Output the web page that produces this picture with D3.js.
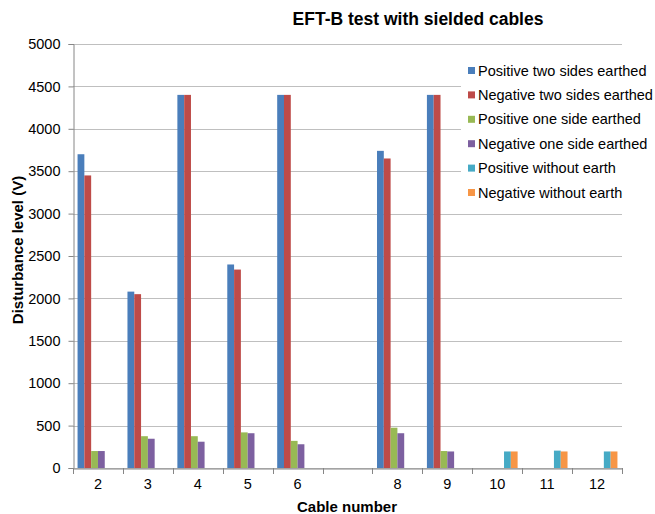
<!DOCTYPE html>
<html>
<head>
<meta charset="utf-8">
<script src="https://cdn.jsdelivr.net/npm/d3@7"></script>
<style>
  html, body { margin: 0; padding: 0; background: #fff; }
  svg { display: block; font-family: "Liberation Sans", Arial, sans-serif; }
</style>
</head>
<body>
<svg id="chart" width="655" height="514"></svg>
<script>
const categories = ["2", "3", "4", "5", "6", "7", "8", "9", "10", "11", "12"];
const categoryLabels = ["2", "3", "4", "5", "6", "", "8", "9", "10", "11", "12"];
const seriesNames = [
  "Positive two sides earthed",
  "Negative two sides earthed",
  "Positive one side earthed",
  "Negative one side earthed",
  "Positive without earth",
  "Negative without earth"
];
const posTwoSides = [3700, 2080, 4400, 2400, 4400, null, 3740, 4400, null, null, null];
const negTwoSides = [3450, 2050, 4400, 2340, 4400, null, 3650, 4400, null, null, null];
const posOneSide  = [200, 375, 375, 420, 320, null, 475, 200, null, null, null];
const negOneSide  = [200, 345, 310, 410, 280, null, 410, 195, null, null, null];
const posNoEarth  = [null, null, null, null, null, null, null, null, 195, 205, 195];
const negNoEarth  = [null, null, null, null, null, null, null, null, 195, 195, 195];
const yTicks = [0, 500, 1000, 1500, 2000, 2500, 3000, 3500, 4000, 4500, 5000];
const colors = ["#4A7EBB", "#BE4B48", "#98B954", "#7D60A0", "#46AAC5", "#F79646"];

const seriesValues = [posTwoSides, negTwoSides, posOneSide, negOneSide, posNoEarth, negNoEarth];

const svg = d3.select("#chart");
const mLeft = 73, mRight = 622, mTop = 44, mBottom = 468;

const x0 = d3.scaleBand().domain(categories).range([mLeft, mRight]).paddingInner(0).paddingOuter(0);
const x1 = d3.scaleBand().domain(d3.range(seriesNames.length)).range([0, x0.bandwidth()])
  .paddingInner(0).paddingOuter(0.67);
const y = d3.scaleLinear().domain([0, 5000]).range([mBottom, mTop]);

// gridlines
svg.append("g").selectAll("line").data(yTicks).join("line")
  .attr("x1", mLeft).attr("x2", mRight)
  .attr("y1", d => Math.round(y(d)) + 0.5).attr("y2", d => Math.round(y(d)) + 0.5)
  .attr("stroke", "#BFBFBF").attr("stroke-width", 1);

// y axis
const yAxis = d3.axisLeft(y).tickValues(yTicks).tickSize(5).tickPadding(8).tickFormat(d3.format("d"));
const yg = svg.append("g").attr("transform", `translate(${mLeft + 0.5},0)`).call(yAxis);
yg.select(".domain").attr("stroke", "#868686");
yg.selectAll(".tick line").attr("stroke", "#868686");
yg.selectAll(".tick text").attr("font-size", 14.5).attr("fill", "#000")
  .attr("font-family", "Liberation Sans, Arial, sans-serif");

// bars
const rows = categories.map((c, i) => ({ c, vals: seriesValues.map(s => s[i]) }));
const groups = svg.append("g").selectAll("g").data(rows).join("g")
  .attr("transform", d => `translate(${x0(d.c)},0)`);
groups.selectAll("rect")
  .data(d => d.vals.map((v, k) => ({ k, v })).filter(e => e.v != null))
  .join("rect")
  .attr("x", e => x1(e.k))
  .attr("width", x1.bandwidth())
  .attr("y", e => y(e.v))
  .attr("height", e => y(0) - y(e.v))
  .attr("fill", e => colors[e.k]);

// x axis
const xAxis = d3.axisBottom(x0).tickSize(0).tickPadding(10).tickFormat((d, i) => categoryLabels[i]);
const xg = svg.append("g").attr("transform", `translate(0,${mBottom + 0.5})`).call(xAxis);
xg.select(".domain").attr("stroke", "#868686");
xg.selectAll(".tick text").attr("font-size", 14.5).attr("fill", "#000")
  .attr("font-family", "Liberation Sans, Arial, sans-serif");
// boundary tick marks
const boundaries = categories.map(c => x0(c)).concat([mRight]);
svg.append("g").selectAll("line").data(boundaries).join("line")
  .attr("x1", d => Math.round(d) + 0.5).attr("x2", d => Math.round(d) + 0.5)
  .attr("y1", mBottom).attr("y2", mBottom + 6)
  .attr("stroke", "#868686");

// title
svg.append("text").attr("x", 418).attr("y", 25).attr("text-anchor", "middle")
  .attr("font-size", 17.5).attr("font-weight", "bold").text("EFT-B test with sielded cables");

// axis titles
svg.append("text").attr("x", 347).attr("y", 512).attr("text-anchor", "middle")
  .attr("font-size", 15).attr("font-weight", "bold").text("Cable number");
svg.append("text").attr("transform", "translate(23,250) rotate(-90)").attr("text-anchor", "middle")
  .attr("font-size", 15).attr("font-weight", "bold").text("Disturbance level (V)");

// legend
const lg = svg.append("g");
lg.append("rect").attr("x", 461).attr("y", 55).attr("width", 194).attr("height", 150).attr("fill", "#fff");
const items = lg.selectAll("g").data(seriesNames).join("g")
  .attr("transform", (d, i) => `translate(468,${70.5 + i * 24.4})`);
items.append("rect").attr("x", 0).attr("y", -3.5).attr("width", 7).attr("height", 7)
  .attr("fill", (d, i) => colors[i]);
items.append("text").attr("x", 10).attr("y", 5).attr("font-size", 14.5).text(d => d);
</script>
</body>
</html>
